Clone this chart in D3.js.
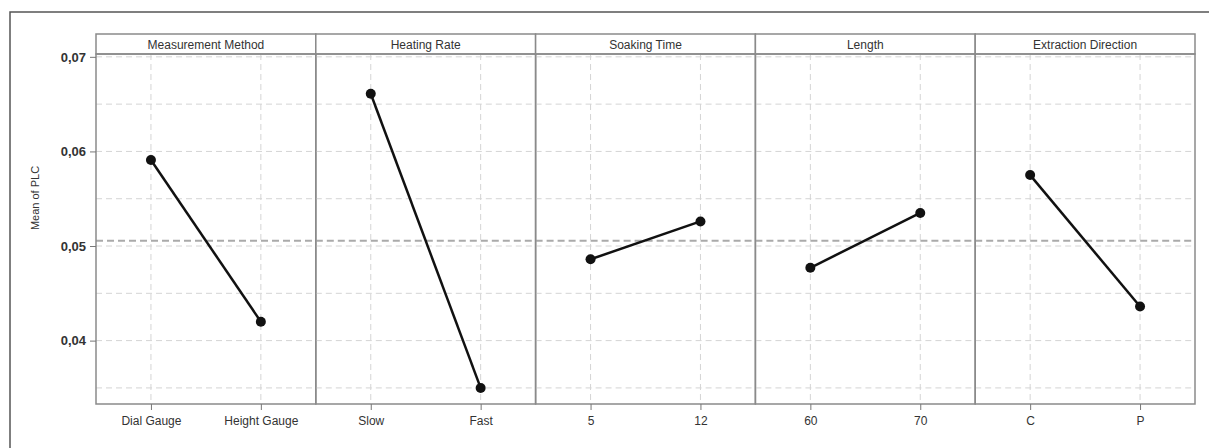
<!DOCTYPE html>
<html>
<head>
<meta charset="utf-8">
<script src="https://cdn.jsdelivr.net/npm/d3@7"></script>
<style>
  body { margin: 0; background: #fff; }
  text { font-family: "Liberation Sans", Arial, sans-serif; }
</style>
</head>
<body>
<div id="chart"></div>
<script>
// main effects plot data
const factors = ['Measurement Method', 'Heating Rate', 'Soaking Time', 'Length', 'Extraction Direction'];
const levels = [['Dial Gauge', 'Height Gauge'], ['Slow', 'Fast'], ['5', '12'], ['60', '70'], ['C', 'P']];
const means = [[0.0591, 0.0420], [0.0661, 0.0350], [0.0486, 0.0526], [0.0477, 0.0535], [0.0575, 0.0436]];
const yTicks = [0.04, 0.05, 0.06, 0.07];
const yGrid = [0.035, 0.04, 0.045, 0.05, 0.055, 0.06, 0.065, 0.07];
const yLabel = 'Mean of PLC';

const W = 1209, H = 448;
const plotLeft = 96, plotRight = 1195, stripTop = 34, plotTop = 54, plotBottom = 404;

const svg = d3.select('#chart').append('svg')
    .attr('width', W)
    .attr('height', H);

// outer frame (only left and top edges visible)
svg.append('path')
    .attr('d', 'M10,' + H + 'V12H' + W)
    .attr('fill', 'none')
    .attr('stroke', '#555')
    .attr('stroke-width', 1.5);

const y = d3.scaleLinear().domain([0.0333, 0.0703]).range([plotBottom, plotTop]);
const panel = d3.scaleBand().domain(factors).range([plotLeft, plotRight]);

const grandMean = d3.mean(means.flat());

factors.forEach((f, i) => {
  const x0 = panel(f), x1 = x0 + panel.bandwidth();
  const x = d3.scalePoint().domain(levels[i]).range([x0, x1]).padding(0.5);
  const g = svg.append('g');

  // horizontal grid
  g.selectAll('line.hg')
      .data(yGrid)
      .enter().append('line')
      .attr('class', 'hg')
      .attr('x1', x0).attr('x2', x1)
      .attr('y1', d => y(d)).attr('y2', d => y(d))
      .attr('stroke', '#d4d4d4')
      .attr('stroke-width', 1)
      .attr('stroke-dasharray', '6,4');

  // vertical grid
  g.selectAll('line.vg')
      .data(levels[i])
      .enter().append('line')
      .attr('class', 'vg')
      .attr('x1', d => x(d)).attr('x2', d => x(d))
      .attr('y1', plotTop).attr('y2', plotBottom)
      .attr('stroke', '#d4d4d4')
      .attr('stroke-width', 1)
      .attr('stroke-dasharray', '6,4');

  // grand mean reference line
  g.append('line')
      .attr('x1', x0).attr('x2', x1)
      .attr('y1', y(grandMean)).attr('y2', y(grandMean))
      .attr('stroke', '#aaa')
      .attr('stroke-width', 2)
      .attr('stroke-dasharray', '7,4');

  // strip
  g.append('rect')
      .attr('x', x0).attr('y', stripTop)
      .attr('width', x1 - x0).attr('height', plotTop - stripTop)
      .attr('fill', '#fff')
      .attr('stroke', '#8a8a8a')
      .attr('stroke-width', 1.5);
  g.append('text')
      .attr('x', (x0 + x1) / 2)
      .attr('y', stripTop + 15)
      .attr('text-anchor', 'middle')
      .attr('font-size', 12)
      .attr('fill', '#333')
      .text(f);

  // panel border
  g.append('rect')
      .attr('x', x0).attr('y', plotTop)
      .attr('width', x1 - x0).attr('height', plotBottom - plotTop)
      .attr('fill', 'none')
      .attr('stroke', '#8a8a8a')
      .attr('stroke-width', 1.5);

  // x axis ticks
  const ax = g.append('g')
      .attr('transform', 'translate(0,' + plotBottom + ')')
      .call(d3.axisBottom(x).tickSize(6).tickPadding(6));
  ax.select('.domain').remove();
  ax.selectAll('line').attr('stroke', '#777');
  ax.selectAll('text')
      .attr('font-size', 12)
      .attr('fill', '#333')
      .style('font-family', '"Liberation Sans", Arial, sans-serif');

  // main effect line + points
  const pts = levels[i].map((l, j) => ({ level: l, value: means[i][j] }));
  g.append('path')
      .datum(pts)
      .attr('fill', 'none')
      .attr('stroke', '#111')
      .attr('stroke-width', 2.5)
      .attr('d', d3.line().x(d => x(d.level)).y(d => y(d.value)));
  g.selectAll('circle')
      .data(pts)
      .enter().append('circle')
      .attr('cx', d => x(d.level))
      .attr('cy', d => y(d.value))
      .attr('r', 5)
      .attr('fill', '#111');
});

// y axis
const yAxis = svg.append('g')
    .attr('transform', 'translate(' + plotLeft + ',0)')
    .call(d3.axisLeft(y).tickValues(yTicks).tickSize(6).tickPadding(4)
      .tickFormat(d => d3.format('.2f')(d).replace('.', ',')));
yAxis.select('.domain').remove();
yAxis.selectAll('line').attr('stroke', '#777');
yAxis.selectAll('text')
    .attr('font-size', 13)
    .attr('font-weight', 'bold')
    .attr('fill', '#333')
    .style('font-family', '"Liberation Sans", Arial, sans-serif');

svg.append('text')
    .attr('transform', 'translate(39,198) rotate(-90)')
    .attr('text-anchor', 'middle')
    .attr('font-size', 11)
    .attr('fill', '#333')
    .text(yLabel);
</script>
</body>
</html>
